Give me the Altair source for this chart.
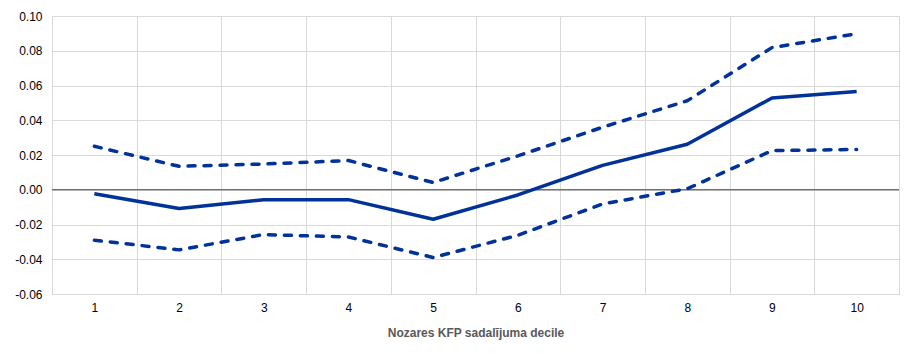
import altair as alt
import pandas as pd

deciles = [str(i) for i in range(1, 11)]
estimate = [-0.0023, -0.0108, -0.0057, -0.0057, -0.0170, -0.0030, 0.0140, 0.0262, 0.0528, 0.0566]
upper = [0.0250, 0.0135, 0.0148, 0.0168, 0.0042, 0.0195, 0.0360, 0.0512, 0.0818, 0.0898]
lower = [-0.0290, -0.0346, -0.0258, -0.0272, -0.0390, -0.0262, -0.0082, 0.0006, 0.0225, 0.0232]
y_ticks = [-0.06, -0.04, -0.02, 0.0, 0.02, 0.04, 0.06, 0.08, 0.10]
zero_level = [0.0]

rows = []
for name, vals in [("estimate", estimate), ("upper", upper), ("lower", lower)]:
    for d, v in zip(deciles, vals):
        rows.append({"decile": d, "value": v, "series": name})
df = pd.DataFrame(rows)

blue = "#003299"
font = "Liberation Sans"

x_enc = alt.X(
    "decile:O",
    sort=deciles,
    scale=alt.Scale(paddingInner=0, paddingOuter=0),
    axis=alt.Axis(
        title="Nozares KFP sadalījuma decile",
        titleFont=font, titleFontSize=12, titleFontWeight="bold", titleColor="#595959",
        titlePadding=14,
        labelFont=font, labelFontSize=12, labelColor="#000000", labelAngle=0, labelPadding=8,
        grid=True, gridColor="#d9d9d9", gridWidth=1,
        tickBand="extent", ticks=False, domain=False,
    ),
)
y_enc = alt.Y(
    "value:Q",
    scale=alt.Scale(domain=[-0.06, 0.10], nice=False),
    axis=alt.Axis(
        title=None, values=y_ticks,
        labelExpr="datum.value < 0 ? '-' + format(-datum.value, '.2f') : format(datum.value, '.2f')",
        labelFont=font, labelFontSize=12, labelColor="#000000", labelPadding=10,
        grid=True, gridColor="#d9d9d9", gridWidth=1, ticks=False, domain=False,
    ),
)

base = alt.Chart(df)

zero = alt.Chart(pd.DataFrame({"value": zero_level})).mark_rule(color="#404040", strokeWidth=1).encode(
    y=y_enc
)

bands = base.transform_filter(alt.datum.series != "estimate").mark_line(
    color=blue, strokeWidth=3.5, strokeDash=[7, 9], strokeCap="round", strokeJoin="round"
).encode(x=x_enc, y=y_enc, detail="series:N")

est = base.transform_filter(alt.datum.series == "estimate").mark_line(
    color=blue, strokeWidth=3.5, strokeJoin="round"
).encode(x=x_enc, y=y_enc)

chart = alt.layer(zero, bands, est).properties(
    width=847, height=278,
    padding={"left": 52, "top": 16, "right": 13, "bottom": 60},
    autosize=alt.AutoSizeParams(type="none"),
).configure_view(stroke="#d9d9d9", strokeWidth=1).configure(background="white")

chart.save("out.html", embed_options={"renderer": "svg", "actions": False})
